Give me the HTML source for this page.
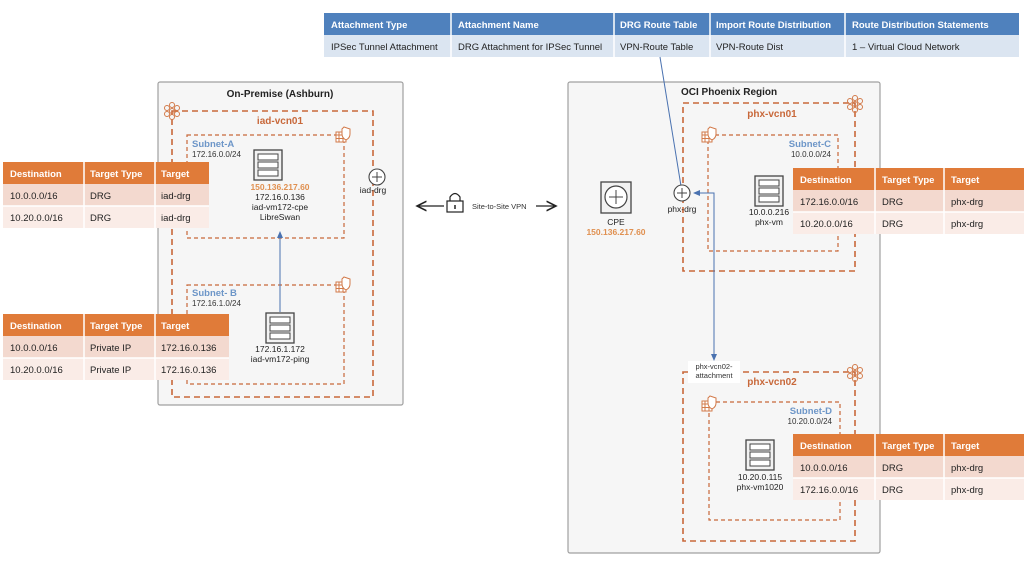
<!DOCTYPE html>
<html><head><meta charset="utf-8"><style>
html,body{margin:0;padding:0;background:#fff;}
svg{display:block;font-family:"Liberation Sans",sans-serif;}
</style></head><body>
<svg width="1024" height="564" viewBox="0 0 1024 564" xmlns="http://www.w3.org/2000/svg">
<defs>
<g id="srv"><rect x="0" y="0" width="28" height="30" fill="#f2f2f2" stroke="#444" stroke-width="1.3"/>
<rect x="4" y="4" width="20" height="6" fill="#fff" stroke="#444"/><rect x="4" y="12" width="20" height="6" fill="#fff" stroke="#444"/><rect x="4" y="20" width="20" height="6" fill="#fff" stroke="#444"/></g>
<g id="rtr"><circle cx="0" cy="0" r="8" fill="#fff" stroke="#444" stroke-width="1.1"/><path d="M-5 0H5M0 -5V5" stroke="#444" stroke-width="1"/></g>
<g id="vcn" fill="none" stroke="#d27a4a" stroke-width="1"><circle cx="0" cy="-5" r="2.5"/><circle cx="-5" cy="-2" r="2.5"/><circle cx="5" cy="-2" r="2.5"/><circle cx="-5" cy="4" r="2.5"/><circle cx="5" cy="4" r="2.5"/><circle cx="0" cy="7" r="2.5"/><circle cx="0" cy="1" r="2.5"/></g>
<g id="sl" fill="#fff" stroke="#d27a4a" stroke-width="1"><rect x="-7" y="-3" width="10" height="10"/><path d="M-7 0H3M-7 3.5H3M-4 -3V7M0 -3V7"/><path d="M1 -8 L7 -6 V-1 Q7 3 3 5 Q-1 3 -1 -1 V-6Z"/></g>
<marker id="ab" markerWidth="8" markerHeight="8" refX="6" refY="4" orient="auto"><path d="M0,1 L7,4 L0,7Z" fill="#4a72b0"/></marker>
<marker id="ak" markerWidth="10" markerHeight="10" refX="8" refY="5" orient="auto"><path d="M0,1 L8,5 L0,9" fill="none" stroke="#222" stroke-width="1.3"/></marker>
</defs>

<rect x="324" y="13" width="695" height="22" fill="#4f81bd"/>
<rect x="324" y="35" width="695" height="22" fill="#dbe5f1"/>
<g stroke="#fff" stroke-width="1.5"><path d="M451 13V57M614 13V57M710 13V57M845 13V57"/></g>
<g font-size="9.5" font-weight="bold" fill="#fff"><text x="331" y="28">Attachment Type</text><text x="458" y="28">Attachment Name</text><text x="620" y="28">DRG Route Table</text><text x="716" y="28">Import Route Distribution</text><text x="852" y="28">Route Distribution Statements</text></g>
<g font-size="9.5" fill="#222"><text x="331" y="50">IPSec Tunnel Attachment</text><text x="458" y="50">DRG Attachment for IPSec Tunnel</text><text x="620" y="50">VPN-Route Table</text><text x="716" y="50">VPN-Route Dist</text><text x="852" y="50">1 – Virtual Cloud Network</text></g>

<rect x="158" y="82" width="245" height="323" fill="#f6f6f6" stroke="#a0a0a0" stroke-width="1.2" rx="2"/>
<text x="280" y="97" font-size="10" font-weight="bold" text-anchor="middle" fill="#222">On-Premise (Ashburn)</text>
<rect x="172" y="111" width="201" height="286" fill="none" stroke="#c8683a" stroke-width="1.6" stroke-dasharray="6,4"/>
<use href="#vcn" x="172" y="110"/>
<text x="280" y="124" font-size="10" font-weight="bold" text-anchor="middle" fill="#c8683a">iad-vcn01</text>
<rect x="187" y="135" width="157" height="103" fill="none" stroke="#c8683a" stroke-width="1.2" stroke-dasharray="4,3"/>
<use href="#sl" x="343" y="135"/>
<text x="192" y="147" font-size="9.5" font-weight="bold" fill="#6d96c8">Subnet-A</text>
<text x="192" y="157" font-size="8" fill="#333">172.16.0.0/24</text>
<use href="#srv" x="254" y="150"/>
<text x="280" y="190" font-size="8.5" font-weight="bold" text-anchor="middle" fill="#e09050">150.136.217.60</text>
<text x="280" y="200" font-size="8.5" text-anchor="middle" fill="#222">172.16.0.136</text>
<text x="280" y="210" font-size="8.5" text-anchor="middle" fill="#222">iad-vm172-cpe</text>
<text x="280" y="220" font-size="8.5" text-anchor="middle" fill="#222">LibreSwan</text>
<use href="#rtr" x="377" y="177"/>
<text x="373" y="193" font-size="8.5" text-anchor="middle" fill="#222">iad-drg</text>
<rect x="187" y="285" width="157" height="99" fill="none" stroke="#c8683a" stroke-width="1.2" stroke-dasharray="4,3"/>
<use href="#sl" x="343" y="285"/>
<text x="192" y="296" font-size="9.5" font-weight="bold" fill="#6d96c8">Subnet- B</text>
<text x="192" y="306" font-size="8" fill="#333">172.16.1.0/24</text>
<line x1="280" y1="312" x2="280" y2="232" stroke="#4a72b0" stroke-width="1" marker-end="url(#ab)"/>
<use href="#srv" x="266" y="313"/>
<text x="280" y="352" font-size="8.5" text-anchor="middle" fill="#222">172.16.1.172</text>
<text x="280" y="362" font-size="8.5" text-anchor="middle" fill="#222">iad-vm172-ping</text>

<rect x="3" y="162" width="206" height="22" fill="#e07b39"/>
<rect x="3" y="184" width="206" height="22" fill="#f3d9cf"/>
<rect x="3" y="206" width="206" height="22" fill="#faece7"/>
<g stroke="#fff" stroke-width="1.5"><path d="M84 162V228M155 162V228M3 206H209"/></g>
<g font-size="9.5" font-weight="bold" fill="#fff"><text x="10" y="177">Destination</text><text x="90" y="177">Target Type</text><text x="161" y="177">Target</text></g>
<g font-size="9.5" fill="#222"><text x="10" y="199">10.0.0.0/16</text><text x="90" y="199">DRG</text><text x="161" y="199">iad-drg</text><text x="10" y="221">10.20.0.0/16</text><text x="90" y="221">DRG</text><text x="161" y="221">iad-drg</text></g>

<rect x="3" y="314" width="226" height="22" fill="#e07b39"/>
<rect x="3" y="336" width="226" height="22" fill="#f3d9cf"/>
<rect x="3" y="358" width="226" height="22" fill="#faece7"/>
<g stroke="#fff" stroke-width="1.5"><path d="M84 314V380M155 314V380M3 358H229"/></g>
<g font-size="9.5" font-weight="bold" fill="#fff"><text x="10" y="329">Destination</text><text x="90" y="329">Target Type</text><text x="161" y="329">Target</text></g>
<g font-size="9.5" fill="#222"><text x="10" y="351">10.0.0.0/16</text><text x="90" y="351">Private IP</text><text x="161" y="351">172.16.0.136</text><text x="10" y="373">10.20.0.0/16</text><text x="90" y="373">Private IP</text><text x="161" y="373">172.16.0.136</text></g>

<line x1="444" y1="206" x2="417" y2="206" stroke="#222" stroke-width="1.2" marker-end="url(#ak)"/>
<line x1="536" y1="206" x2="556" y2="206" stroke="#222" stroke-width="1.2" marker-end="url(#ak)"/>
<path d="M450 201 V197 Q455 190 460 197 V201" fill="none" stroke="#222" stroke-width="1.2"/>
<rect x="447" y="201" width="16" height="11" fill="#fff" stroke="#222" stroke-width="1.2"/>
<line x1="455" y1="205" x2="455" y2="209" stroke="#222" stroke-width="1.5"/>
<text x="472" y="209" font-size="7.5" fill="#333">Site-to-Site VPN</text>

<rect x="568" y="82" width="312" height="471" fill="#f6f6f6" stroke="#a0a0a0" stroke-width="1.2" rx="2"/>
<text x="681" y="95" font-size="10" font-weight="bold" fill="#222">OCI Phoenix Region</text>
<rect x="683" y="103" width="172" height="168" fill="none" stroke="#c8683a" stroke-width="1.6" stroke-dasharray="6,4"/>
<use href="#vcn" x="855" y="103"/>
<text x="772" y="117" font-size="10" font-weight="bold" text-anchor="middle" fill="#c8683a">phx-vcn01</text>
<rect x="708" y="135" width="130" height="116" fill="none" stroke="#c8683a" stroke-width="1.2" stroke-dasharray="4,3"/>
<use href="#sl" x="709" y="135"/>
<text x="831" y="147" font-size="9.5" font-weight="bold" text-anchor="end" fill="#6d96c8">Subnet-C</text>
<text x="831" y="157" font-size="8" text-anchor="end" fill="#333">10.0.0.0/24</text>
<use href="#srv" x="755" y="176"/>
<text x="769" y="215" font-size="8.5" text-anchor="middle" fill="#222">10.0.0.216</text>
<text x="769" y="225" font-size="8.5" text-anchor="middle" fill="#222">phx-vm</text>
<rect x="601" y="182" width="30" height="31" fill="#f2f2f2" stroke="#444" stroke-width="1.3"/>
<circle cx="616" cy="197" r="11" fill="#fff" stroke="#444" stroke-width="1.2"/>
<path d="M609 197H623M616 190V204" stroke="#444"/>
<text x="616" y="225" font-size="8.5" text-anchor="middle" fill="#222">CPE</text>
<text x="616" y="235" font-size="8.5" font-weight="bold" text-anchor="middle" fill="#e09050">150.136.217.60</text>
<line x1="660" y1="57" x2="681" y2="186" stroke="#4a72b0" stroke-width="1"/>
<use href="#rtr" x="682" y="193"/>
<text x="682" y="212" font-size="8.5" text-anchor="middle" fill="#222">phx-drg</text>
<path d="M714 356 V193 H694" fill="none" stroke="#4a72b0" stroke-width="1" marker-end="url(#ab)"/>
<line x1="714" y1="196" x2="714" y2="360" stroke="#4a72b0" stroke-width="1" marker-end="url(#ab)"/>

<rect x="793" y="168" width="231" height="22" fill="#e07b39"/>
<rect x="793" y="190" width="231" height="22" fill="#f3d9cf"/>
<rect x="793" y="212" width="231" height="22" fill="#faece7"/>
<g stroke="#fff" stroke-width="1.5"><path d="M875 168V234M944 168V234M793 212H1024"/></g>
<g font-size="9.5" font-weight="bold" fill="#fff"><text x="800" y="183">Destination</text><text x="882" y="183">Target Type</text><text x="951" y="183">Target</text></g>
<g font-size="9.5" fill="#222"><text x="800" y="205">172.16.0.0/16</text><text x="882" y="205">DRG</text><text x="951" y="205">phx-drg</text><text x="800" y="227">10.20.0.0/16</text><text x="882" y="227">DRG</text><text x="951" y="227">phx-drg</text></g>

<rect x="683" y="372" width="172" height="169" fill="none" stroke="#c8683a" stroke-width="1.6" stroke-dasharray="6,4"/>
<rect x="688" y="361" width="52" height="22" fill="#fff"/>
<text x="714" y="369" font-size="7.5" text-anchor="middle" fill="#333">phx-vcn02-</text>
<text x="714" y="378" font-size="7.5" text-anchor="middle" fill="#333">attachment</text>
<use href="#vcn" x="855" y="372"/>
<text x="772" y="385" font-size="10" font-weight="bold" text-anchor="middle" fill="#c8683a">phx-vcn02</text>
<rect x="709" y="402" width="131" height="118" fill="none" stroke="#c8683a" stroke-width="1.2" stroke-dasharray="4,3"/>
<use href="#sl" x="709" y="404"/>
<text x="832" y="414" font-size="9.5" font-weight="bold" text-anchor="end" fill="#6d96c8">Subnet-D</text>
<text x="832" y="424" font-size="8" text-anchor="end" fill="#333">10.20.0.0/24</text>
<use href="#srv" x="746" y="440"/>
<text x="760" y="480" font-size="8.5" text-anchor="middle" fill="#222">10.20.0.115</text>
<text x="760" y="490" font-size="8.5" text-anchor="middle" fill="#222">phx-vm1020</text>

<rect x="793" y="434" width="231" height="22" fill="#e07b39"/>
<rect x="793" y="456" width="231" height="22" fill="#f3d9cf"/>
<rect x="793" y="478" width="231" height="22" fill="#faece7"/>
<g stroke="#fff" stroke-width="1.5"><path d="M875 434V500M944 434V500M793 478H1024"/></g>
<g font-size="9.5" font-weight="bold" fill="#fff"><text x="800" y="449">Destination</text><text x="882" y="449">Target Type</text><text x="951" y="449">Target</text></g>
<g font-size="9.5" fill="#222"><text x="800" y="471">10.0.0.0/16</text><text x="882" y="471">DRG</text><text x="951" y="471">phx-drg</text><text x="800" y="493">172.16.0.0/16</text><text x="882" y="493">DRG</text><text x="951" y="493">phx-drg</text></g>
</svg>
</body></html>
